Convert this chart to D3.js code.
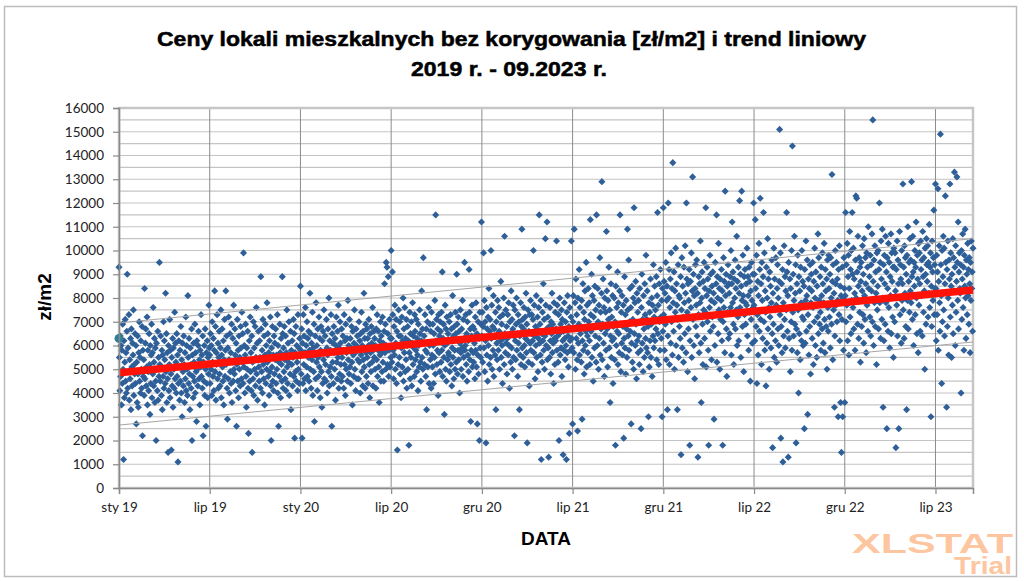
<!DOCTYPE html>
<html>
<head>
<meta charset="utf-8">
<script src="https://cdn.jsdelivr.net/npm/d3@7"></script>
<style>
  body { margin: 0; background: #fff; }
  svg { display: block; }
</style>
</head>
<body>
<svg id="chart" width="1024" height="581"></svg>
<script>
// ceny w setkach zł/m2, kolejne transakcje (oś X = numer transakcji)
// jeden blok = odstęp między etykietami osi
const seg0 = [
  93,55,41,64,47,60,35,58,44,69,50,12,62,38,53,71,45,57,40,66,
  90,42,59,49,73,37,54,46,63,33,67,51,43,61,56,75,39,52,48,65,
  44,60,27,53,36,64,48,34,57,70,45,55,40,62,50,42,68,22,58,47,
  54,39,84,46,61,67,43,51,72,35,58,49,41,65,52,31,60,44,56,69,
  38,57,48,76,43,53,63,36,59,45,20,61,50,41,66,37,55,47,95,52,
  45,64,51,39,58,33,56,47,70,42,62,54,44,82,49,65,36,57,46,15,
  60,41,52,71,38,58,48,16,55,43,63,34,59,50,42,74,46,61,53,40,
  65,47,56,11,44,62,51,37,58,45,68,40,54,30,61,49,43,64,52,36,
  57,46,72,41,60,50,39,81,55,44,63,48,33,59,52,42,67,20,56,47,
  38,61,53,45,69,40,57,49,28,62,50,43,60,66,46,54,35,58,51,73,
  47,56,42,64,22,53,45,60,39,67,50,26,57,44,62,38,55,48,77,59
];
const seg1 = [
  56,44,65,50,60,39,70,53,47,63,41,58,83,49,68,37,57,52,73,46,
  61,42,55,66,48,43,59,75,38,56,67,51,45,62,35,54,71,47,58,83,
  52,64,42,29,59,46,72,54,40,65,49,57,44,69,36,53,63,45,77,50,
  48,67,56,41,61,26,52,71,45,58,38,64,50,55,43,68,59,46,74,53,
  65,44,99,51,60,40,56,69,47,34,59,50,66,42,23,54,62,45,72,49,
  57,41,64,15,53,46,70,39,59,50,68,43,55,76,48,61,37,54,66,51,
  45,62,55,42,89,67,49,58,40,71,52,46,64,35,56,69,44,60,50,78,
  53,65,47,57,39,62,49,72,43,20,59,51,68,45,56,41,64,48,61,54,
  67,44,56,50,73,40,60,26,53,47,69,57,38,63,52,45,89,65,42,59,
  49,68,54,46,64,41,57,75,51,44,61,53,70,39,56,48,66,33,58,52,
  62,43,55,71,47,65,21,57,49,68,45,60,53,41,73,50,59,44,63,56
];
const seg2 = [
  85,58,48,67,21,61,44,73,52,64,46,57,76,41,60,51,70,47,63,55,
  66,45,58,82,50,65,42,61,54,74,39,59,49,69,28,56,64,46,78,53,
  60,41,67,55,47,72,51,63,38,58,68,49,34,62,44,66,54,75,46,57,
  64,52,45,71,59,40,56,67,49,80,43,62,51,58,73,47,26,65,53,61,
  44,68,57,50,63,37,60,72,53,46,66,55,77,42,59,48,70,61,52,45,
  67,55,47,64,58,42,73,52,62,39,69,50,57,63,45,79,54,60,48,71,
  51,63,44,59,68,53,35,66,56,47,61,75,50,57,41,67,60,46,64,54,
  58,46,70,53,62,40,65,56,74,49,60,43,66,54,82,51,63,42,69,57,
  47,67,55,63,44,60,71,52,38,65,57,49,68,61,53,76,43,58,66,55,
  63,50,60,42,67,54,73,47,58,66,51,36,62,56,70,45,64,57,49,72,
  53,61,45,66,86,57,69,50,95,60,93,52,65,89,47,58,71,51,63,55
];
const seg3 = [
  100,63,53,91,73,58,46,68,56,77,50,61,71,44,66,16,60,52,75,64,
  55,70,48,64,38,59,72,51,62,80,45,67,57,76,49,63,54,71,42,60,
  68,50,62,18,57,74,46,65,55,70,43,61,78,52,64,59,47,73,66,54,
  58,71,49,63,56,41,69,60,51,75,65,53,45,62,83,55,67,50,97,61,
  64,52,73,58,47,67,33,57,70,51,61,76,44,60,69,54,66,42,74,56,
  51,69,60,44,65,55,79,48,115,62,71,52,58,67,39,73,57,64,49,70,
  66,53,74,58,91,47,63,69,55,31,60,77,50,67,45,72,61,54,65,57,
  56,70,49,62,73,52,67,43,59,81,55,64,46,68,58,50,74,65,53,90,
  69,48,58,72,54,66,40,61,75,57,50,67,59,79,47,71,55,63,95,58,
  60,73,52,65,45,70,56,62,49,92,74,54,67,28,58,64,77,51,68,57,
  53,67,61,46,72,58,78,51,65,27,56,70,48,63,20,74,59,55,69,112
];
const seg4 = [
  64,74,53,68,99,59,79,49,70,62,19,76,56,67,45,72,60,84,52,66,
  71,55,100,63,77,50,68,58,81,47,67,64,56,74,33,70,61,54,79,65,
  58,76,66,50,72,62,87,55,69,60,44,73,63,80,52,106,65,57,75,61,
  68,48,63,73,56,78,60,42,70,65,53,83,59,71,50,67,77,55,64,22,
  75,62,54,69,80,58,65,47,73,61,70,33,64,56,78,52,68,109,59,71,
  55,67,76,60,51,72,63,82,57,69,19,62,75,53,66,43,73,61,79,58,
  65,73,52,62,71,100,57,77,64,46,68,60,81,55,67,72,49,63,76,115,
  61,69,56,79,12,65,53,74,62,86,58,71,50,64,105,77,60,67,112,54,
  72,59,13,68,55,76,62,48,70,65,82,57,69,61,44,78,63,52,74,62,
  67,104,58,77,64,53,73,20,65,80,56,69,59,75,47,71,62,14,66,58,
  78,63,54,70,60,12,74,57,81,64,51,68,23,76,62,58,72,104,63,59
];
const seg5 = [
  27,70,81,57,109,67,78,50,88,63,73,54,24,80,61,69,92,56,76,65,
  68,53,79,29,62,86,58,74,48,71,83,60,66,95,51,77,64,57,84,70,
  78,62,52,113,73,66,90,55,81,68,45,72,79,59,85,64,75,53,115,69,
  60,84,70,50,77,63,97,56,74,67,82,129,54,69,88,61,76,47,80,65,
  74,58,108,83,67,51,79,71,93,59,75,36,64,86,55,72,62,81,44,68,
  63,80,54,70,18,85,60,76,66,91,52,78,65,57,83,115,69,49,74,61,
  81,56,68,77,21,63,89,59,73,48,79,67,55,109,75,64,96,58,70,84,
  66,76,27,61,85,53,71,80,50,118,65,78,60,87,69,46,82,62,74,57,
  79,64,52,84,70,58,25,76,90,61,71,49,81,67,55,86,73,63,98,59,
  71,83,57,68,30,78,51,74,62,88,55,69,80,47,77,64,94,59,72,85,
  62,75,67,89,54,81,116,65,77,52,86,70,58,92,72,63,79,30,84,66
];
const seg6 = [
  118,73,87,58,82,69,95,54,79,85,33,64,120,80,92,52,76,88,61,99,
  70,84,56,137,78,66,91,50,83,74,101,60,86,77,33,71,94,55,81,68,
  80,63,89,14,75,97,59,85,72,53,93,78,65,102,82,57,120,88,74,49,
  86,67,79,92,18,62,87,76,99,55,83,131,71,90,60,81,46,84,94,68,
  77,96,64,82,13,73,89,57,86,78,104,61,36,80,91,69,52,87,75,95,
  63,84,74,118,51,81,93,70,88,58,18,83,76,98,66,90,79,54,85,72,
  91,68,82,29,78,60,95,73,86,115,53,89,80,65,103,75,84,50,88,71,
  79,92,62,83,18,70,97,76,87,57,125,81,90,67,47,85,74,94,63,86,
  82,65,89,76,100,56,86,112,78,91,69,52,88,80,96,67,84,75,106,60,
  87,72,93,62,82,121,76,90,55,85,125,79,68,98,81,49,89,73,92,78,
  69,86,77,101,64,89,81,58,93,74,87,45,83,71,95,79,61,90,76,120
];
const seg7 = [
  77,90,62,113,84,68,98,44,73,87,56,81,103,66,92,122,71,86,52,95,
  79,63,89,116,70,99,58,83,74,43,93,61,80,105,67,88,76,50,91,72,
  85,59,78,96,65,17,82,69,101,55,88,75,62,97,77,53,84,94,67,80,
  60,87,151,73,99,21,68,86,57,92,11,78,64,102,71,89,59,83,75,116,
  91,66,81,13,95,63,76,88,49,84,70,100,58,144,74,90,64,79,106,69,
  82,94,19,67,86,57,98,75,40,89,65,83,54,93,78,62,100,72,87,60,
  71,85,25,92,61,79,104,66,81,96,31,73,88,56,84,68,94,48,78,90,
  83,63,95,76,52,87,70,101,80,60,91,77,55,85,72,107,65,97,79,69,
  89,74,58,93,81,67,99,86,61,78,103,71,57,92,83,68,88,50,96,76,
  66,98,84,72,90,59,97,80,69,132,87,54,94,75,82,34,64,100,86,77,
  95,70,88,79,30,92,73,102,62,85,36,81,15,71,93,30,80,58,97,84
];
const seg8 = [
  36,81,116,70,94,77,103,62,89,98,56,84,108,72,92,65,100,79,116,90,
  76,101,67,88,82,58,96,123,80,122,91,69,106,85,63,97,74,93,53,87,
  95,68,83,102,73,90,61,105,81,71,97,86,57,99,77,93,66,110,84,79,
  89,72,98,64,94,83,107,70,155,87,60,96,78,102,68,91,82,52,99,75,
  85,100,67,92,120,78,95,63,104,88,71,109,80,34,94,62,98,86,69,106,
  78,91,25,97,84,66,103,76,95,59,89,81,107,65,99,87,72,93,55,101,
  93,70,99,83,17,92,77,104,64,96,86,25,80,108,73,94,88,61,100,79,
  86,128,75,93,63,102,82,97,68,90,33,98,79,110,67,87,95,74,105,83,
  96,78,129,89,71,106,91,60,95,85,100,73,93,112,80,65,98,88,57,103,
  77,99,86,66,104,92,81,96,64,108,89,74,97,83,50,101,90,69,105,94,
  87,102,72,95,82,111,76,93,99,30,85,68,104,91,79,97,117,73,94,84
];
const seg9 = [
  128,84,62,98,73,91,126,58,87,102,78,66,149,94,81,44,100,70,89,106,
  75,101,64,86,123,95,82,34,92,68,104,80,56,96,88,128,72,99,85,55,
  90,77,105,65,97,83,133,93,60,102,74,87,131,95,79,112,67,91,99,84,
  82,94,40,100,71,88,107,76,93,58,98,85,109,80,63,96,90,73,103,81,
  92,69,97,86,57,95,79,104,84,91,66,101
];

const xLabels = ["sty 19", "lip 19", "sty 20", "lip 20", "gru 20",
                 "lip 21", "gru 21", "lip 22", "gru 22", "lip 23"];

// trend liniowy i linie pomocnicze (wartości na początku i końcu osi)
const trendLine = [4855, 8335];
const upperLine = [6950, 10500];
const lowerLine = [2650, 6150];
const firstPoint = [6300]; // wyróżniony pierwszy punkt

const segments = [seg0, seg1, seg2, seg3, seg4, seg5, seg6, seg7, seg8, seg9];
const prices = segments.flat().map(v => v * 100);
const tickIdx = [];
segments.reduce((start, s) => { tickIdx.push(start); return start + s.length; }, 0);

const svg = d3.select("#chart");
const plot = { left: 119, right: 973, top: 108, bottom: 488 };
const last = prices.length - 1;

const x = d3.scaleLinear().domain([0, last]).range([plot.left, plot.right]);
const y = d3.scaleLinear().domain([0, 16000]).range([plot.bottom, plot.top]);

// outer frame
svg.append("rect")
  .attr("x", 4.5).attr("y", 6.5)
  .attr("width", 1012).attr("height", 570)
  .attr("fill", "none")
  .attr("stroke", "#bcbcbc")
  .attr("stroke-width", 1.5);

// title (the original font is wider, so stretch it)
const titleFont = "'Liberation Sans', Arial, sans-serif";
svg.append("text")
  .attr("x", 157).attr("y", 46)
  .attr("textLength", 709).attr("lengthAdjust", "spacingAndGlyphs")
  .attr("font-family", titleFont).attr("font-weight", "bold").attr("font-size", 20)
  .attr("stroke", "#000").attr("stroke-width", 0.5)
  .text("Ceny lokali mieszkalnych bez korygowania [zł/m2] i trend liniowy");
svg.append("text")
  .attr("x", 411).attr("y", 76)
  .attr("textLength", 196).attr("lengthAdjust", "spacingAndGlyphs")
  .attr("font-family", titleFont).attr("font-weight", "bold").attr("font-size", 20)
  .attr("stroke", "#000").attr("stroke-width", 0.5)
  .text("2019 r. - 09.2023 r.");

// horizontal gridlines every 500
svg.append("g")
  .selectAll("line")
  .data(y.ticks(32).filter(d => d > 0))
  .join("line")
  .attr("x1", plot.left).attr("x2", plot.right)
  .attr("y1", d => y(d)).attr("y2", d => y(d))
  .attr("stroke", "#c4c4c4")
  .attr("stroke-width", 1.2);

// vertical gridlines at label positions
svg.append("g")
  .selectAll("line")
  .data(tickIdx.slice(1))
  .join("line")
  .attr("x1", d => x(d)).attr("x2", d => x(d))
  .attr("y1", plot.top).attr("y2", plot.bottom)
  .attr("stroke", "#8c8c8c")
  .attr("stroke-width", 1);

// plot border
svg.append("rect")
  .attr("x", plot.left).attr("y", plot.top)
  .attr("width", plot.right - plot.left).attr("height", plot.bottom - plot.top)
  .attr("fill", "none")
  .attr("stroke", "#c6c6c6")
  .attr("stroke-width", 2.5);

// points
const marker = d3.symbol(d3.symbolSquare, 25);
svg.append("g")
  .selectAll("path")
  .data(prices)
  .join("path")
  .attr("d", marker)
  .attr("transform", (d, i) => `translate(${x(i)},${y(d)}) rotate(45)`)
  .attr("fill", "#2e5f98");

// helper lines
const line2 = (vals) => d3.line()([[x(0), y(vals[0])], [x(last), y(vals[1])]]);
svg.append("path").attr("d", line2(upperLine))
  .attr("stroke", "#a6a6a6").attr("stroke-width", 1).attr("fill", "none");
svg.append("path").attr("d", line2(lowerLine))
  .attr("stroke", "#a6a6a6").attr("stroke-width", 1).attr("fill", "none");
svg.append("path").attr("d", line2(trendLine))
  .attr("stroke", "#ff1208").attr("stroke-width", 7.5).attr("fill", "none");

svg.append("circle")
  .attr("cx", x(0)).attr("cy", y(firstPoint[0])).attr("r", 4.5)
  .attr("fill", "#2f7f96");

// axes
const tickFont = "Lato, 'Open Sans', sans-serif";
const yAxis = svg.append("g")
  .attr("transform", `translate(${plot.left},0)`)
  .call(d3.axisLeft(y).tickValues(y.ticks(16)).tickFormat(d3.format("d"))
    .tickSize(6).tickPadding(9));
yAxis.selectAll("text")
  .attr("font-family", tickFont).attr("font-size", 13.5).attr("fill", "#222");

const xAxis = svg.append("g")
  .attr("transform", `translate(0,${plot.bottom})`)
  .call(d3.axisBottom(x).tickValues(tickIdx).tickFormat((d, i) => xLabels[i])
    .tickSize(6).tickPadding(8));
xAxis.selectAll("text")
  .attr("font-family", tickFont).attr("font-size", 13.5).attr("fill", "#222");

[yAxis, xAxis].forEach(a => {
  a.select(".domain").attr("stroke", "#8a8a8a").attr("stroke-width", 1.5);
  a.selectAll(".tick line").attr("stroke", "#8a8a8a").attr("stroke-width", 1.2);
});

// axis titles
svg.append("text")
  .attr("transform", "translate(51,297) rotate(-90)")
  .attr("text-anchor", "middle")
  .attr("font-family", titleFont)
  .attr("font-weight", "bold").attr("font-size", 19)
  .text("zł/m2");

svg.append("text")
  .attr("x", 546).attr("y", 545)
  .attr("text-anchor", "middle")
  .attr("font-family", titleFont)
  .attr("font-weight", "bold").attr("font-size", 19)
  .text("DATA");

// watermark
svg.append("text")
  .attr("x", 852).attr("y", 553)
  .attr("textLength", 161).attr("lengthAdjust", "spacingAndGlyphs")
  .attr("font-family", titleFont)
  .attr("font-weight", "bold").attr("font-size", 28)
  .attr("fill", "#fdc6a0")
  .text("XLSTAT");
svg.append("text")
  .attr("x", 954).attr("y", 574)
  .attr("textLength", 58).attr("lengthAdjust", "spacingAndGlyphs")
  .attr("font-family", titleFont)
  .attr("font-weight", "bold").attr("font-size", 23)
  .attr("fill", "#fdc6a0")
  .text("Trial");
</script>
</body>
</html>
